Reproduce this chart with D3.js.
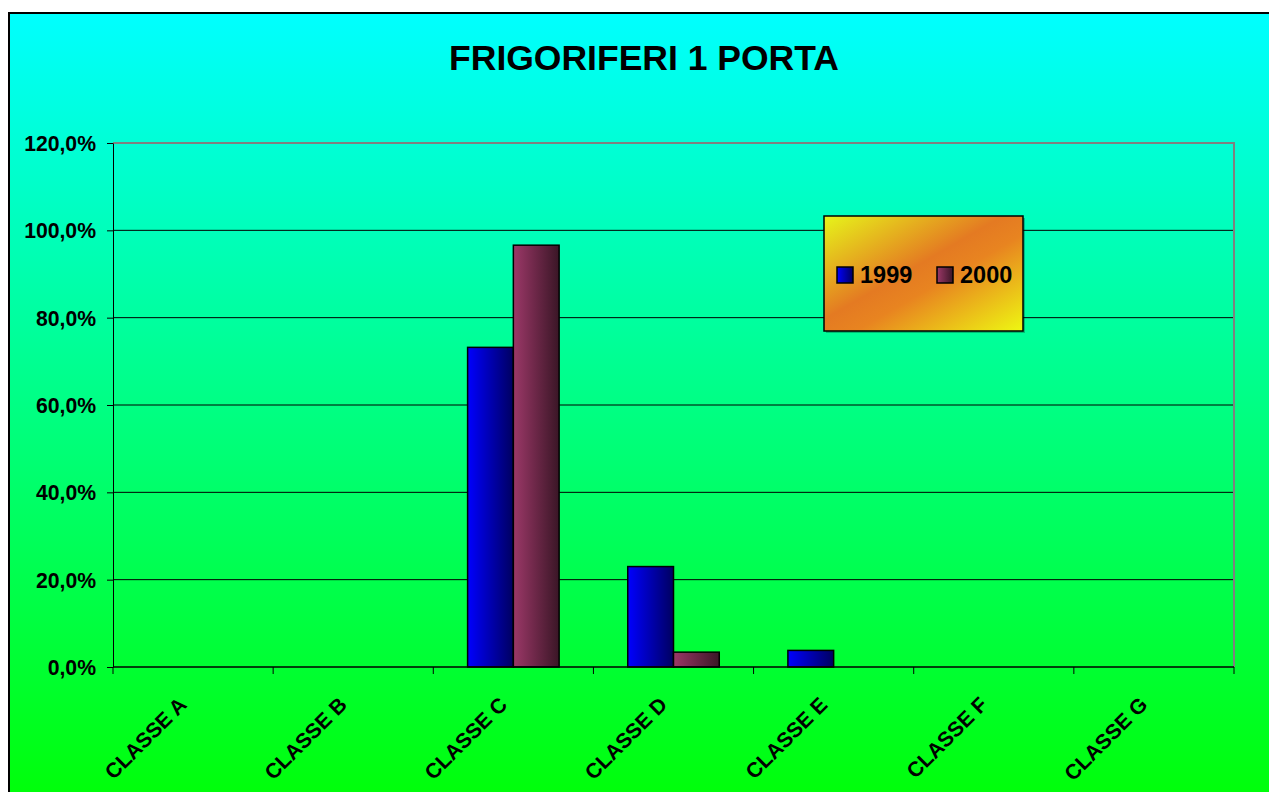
<!DOCTYPE html>
<html>
<head>
<meta charset="utf-8">
<script src="https://cdn.jsdelivr.net/npm/d3@7"></script>
<style>
    body { margin: 0; background: #ffffff; }
    text { font-family: "Liberation Sans", Arial, sans-serif; font-weight: bold; }
</style>
</head>
<body>
<div id="chart"></div>
<script>
// Chart data
var categories = ["CLASSE A", "CLASSE B", "CLASSE C", "CLASSE D", "CLASSE E", "CLASSE F", "CLASSE G"];
var seriesNames = ["1999", "2000"];
var values1999 = [0, 0, 0.732, 0.230, 0.038, 0, 0];
var values2000 = [0, 0, 0.966, 0.034, 0, 0, 0];
var yTicks = [0, 0.2, 0.4, 0.6, 0.8, 1.0, 1.2];
var title = "FRIGORIFERI 1 PORTA";

var W = 1269, H = 792;
var plot = { left: 113, right: 1234, top: 143, bottom: 667 };

var svg = d3.select("#chart").append("svg")
    .attr("width", W)
    .attr("height", H);

var defs = svg.append("defs");

// Background gradient cyan -> green
var bg = defs.append("linearGradient").attr("id", "bg")
    .attr("x1", 0).attr("y1", 0).attr("x2", 0).attr("y2", 1);
bg.append("stop").attr("offset", "0%").attr("stop-color", "#00ffff");
bg.append("stop").attr("offset", "100%").attr("stop-color", "#00ff00");

// Bar gradients
var g1 = defs.append("linearGradient").attr("id", "g1999");
g1.append("stop").attr("offset", "0%").attr("stop-color", "#0000ff");
g1.append("stop").attr("offset", "100%").attr("stop-color", "#000060");
var g2 = defs.append("linearGradient").attr("id", "g2000");
g2.append("stop").attr("offset", "0%").attr("stop-color", "#9c3868");
g2.append("stop").attr("offset", "100%").attr("stop-color", "#3a1626");

// Legend gradient (diagonal yellow / orange / yellow)
var gl = defs.append("linearGradient").attr("id", "glegend")
    .attr("x1", 0).attr("y1", 0).attr("x2", 1).attr("y2", 1);
gl.append("stop").attr("offset", "0%").attr("stop-color", "#e6f51a");
gl.append("stop").attr("offset", "45%").attr("stop-color", "#e47a22");
gl.append("stop").attr("offset", "58%").attr("stop-color", "#e88420");
gl.append("stop").attr("offset", "100%").attr("stop-color", "#eef812");

// Chart area with border
svg.append("rect")
    .attr("x", 9)
    .attr("y", 13)
    .attr("width", W + 20)
    .attr("height", H + 20)
    .attr("fill", "url(#bg)")
    .attr("stroke", "#000")
    .attr("stroke-width", 2);

// Title
svg.append("text")
    .attr("x", 644)
    .attr("y", 70)
    .attr("text-anchor", "middle")
    .style("font-size", "35.5px")
    .text(title);

// Scales
var x0 = d3.scaleBand()
    .domain(categories)
    .range([plot.left, plot.right]);

var x1 = d3.scaleBand()
    .domain(seriesNames)
    .range([0, x0.bandwidth()])
    .paddingOuter(0.75);

var y = d3.scaleLinear()
    .domain([0, 1.2])
    .range([plot.bottom, plot.top]);

var it = d3.formatLocale({ decimal: ",", thousands: ".", grouping: [3], currency: ["€", ""] });
var fmt = it.format(".1%");

// Gridlines
svg.append("g")
    .selectAll("line")
    .data(yTicks.slice(1, -1))
    .enter()
    .append("line")
    .attr("x1", plot.left)
    .attr("x2", plot.right)
    .attr("y1", d => y(d))
    .attr("y2", d => y(d))
    .attr("stroke", "#000")
    .attr("stroke-width", 1);

// Plot area border top / right (gray)
svg.append("path")
    .attr("d", "M" + plot.left + "," + y(1.2) + "H" + plot.right + "V" + plot.bottom)
    .attr("fill", "none")
    .attr("stroke", "#808080")
    .attr("stroke-width", 2);

// Bars
var rows = categories.map(function(c, i) {
    return { cat: c, vals: [{ s: "1999", v: values1999[i] }, { s: "2000", v: values2000[i] }] };
});

var groups = svg.append("g")
    .selectAll("g")
    .data(rows)
    .enter()
    .append("g")
    .attr("transform", d => "translate(" + x0(d.cat) + ",0)");

groups.selectAll("rect")
    .data(d => d.vals.filter(e => e.v > 0))
    .enter()
    .append("rect")
    .attr("x", d => x1(d.s))
    .attr("y", d => y(d.v))
    .attr("width", x1.bandwidth())
    .attr("height", d => y(0) - y(d.v))
    .attr("fill", d => "url(#g" + d.s + ")")
    .attr("stroke", "#000")
    .attr("stroke-width", 1.5);

// Y axis
var yAxis = svg.append("g")
    .attr("transform", "translate(" + plot.left + ",0)")
    .call(d3.axisLeft(y).tickValues(yTicks).tickFormat(fmt).tickSize(6).tickSizeOuter(0).tickPadding(11));
yAxis.selectAll("text")
    .style("font-size", "21.2px")
    .attr("fill", "#000")
    .attr("dy", "0.36em");
yAxis.selectAll("line, path").attr("stroke", "#000");

// X axis (ticks between categories)
var xAxis = svg.append("g")
    .attr("transform", "translate(0," + plot.bottom + ")");
xAxis.append("line")
    .attr("x1", plot.left)
    .attr("x2", plot.right)
    .attr("stroke", "#000")
    .attr("stroke-width", 1.5);
xAxis.selectAll(".tk")
    .data(categories.map(c => x0(c)).concat([plot.right]))
    .enter()
    .append("line")
    .attr("class", "tk")
    .attr("x1", d => d)
    .attr("x2", d => d)
    .attr("y1", 0)
    .attr("y2", 7)
    .attr("stroke", "#000");

// X labels rotated -45
svg.append("g")
    .selectAll("text")
    .data(categories)
    .enter()
    .append("text")
    .attr("transform", d => "translate(" + (x0(d) + x0.bandwidth() / 2 - 5) + ",706) rotate(-45)")
    .attr("text-anchor", "end")
    .style("font-size", "21px")
    .text(d => d);

// Legend
var legend = svg.append("g")
    .attr("transform", "translate(824,216)");

legend.append("rect")
    .attr("x", 2)
    .attr("y", 2)
    .attr("width", 199)
    .attr("height", 115)
    .attr("fill", "rgba(0,0,0,0.25)");

legend.append("rect")
    .attr("width", 199)
    .attr("height", 115)
    .attr("fill", "url(#glegend)")
    .attr("stroke", "#000")
    .attr("stroke-width", 1.5);

var legendX = [13, 113];
seriesNames.forEach(function(s, i) {
    legend.append("rect")
        .attr("x", legendX[i])
        .attr("y", 51)
        .attr("width", 16)
        .attr("height", 16)
        .attr("fill", "url(#g" + s + ")")
        .attr("stroke", "#000")
        .attr("stroke-width", 1.5);
    legend.append("text")
        .attr("x", legendX[i] + 23)
        .attr("y", 67)
        .style("font-size", "23.5px")
        .text(s);
});
</script>
</body>
</html>
